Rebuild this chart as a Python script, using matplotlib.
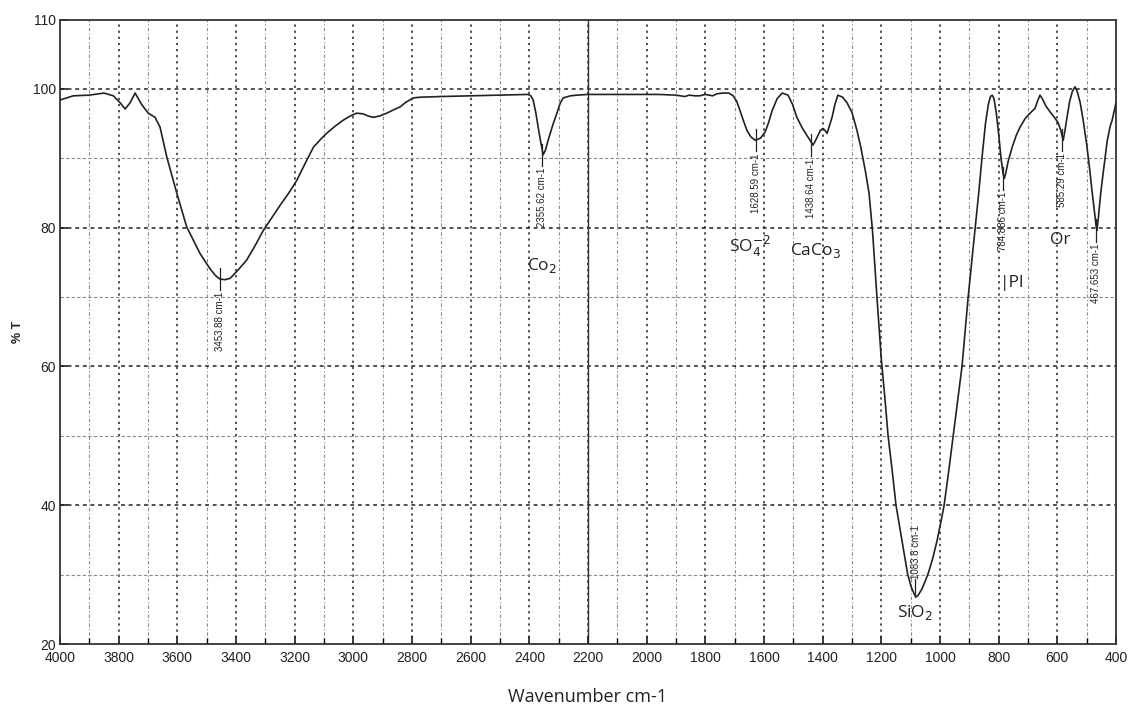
import matplotlib
matplotlib.use("Agg")
import matplotlib.pyplot as plt
from matplotlib.ticker import MultipleLocator, FixedLocator

# ---- spectrum (wavenumber cm-1, %T) ----
wavenumber = [4000, 3955, 3900, 3850, 3818, 3795, 3778, 3761, 3744, 3721, 3699, 3676,
              3659, 3636, 3602, 3568, 3523, 3489, 3470, 3455, 3438, 3420, 3395, 3364,
              3335, 3307, 3280, 3250, 3220, 3193, 3165, 3136, 3110, 3091, 3060, 3034,
              3010, 2989, 2966, 2950, 2932, 2910, 2886, 2862, 2841, 2820, 2795, 2773,
              2700, 2600, 2500, 2404, 2395, 2387, 2378, 2370, 2361, 2353, 2344, 2336,
              2320, 2306, 2295, 2285, 2260, 2238, 2200, 2100, 2030, 1960, 1900, 1885,
              1870, 1855, 1835, 1820, 1800, 1775, 1760, 1740, 1720, 1705, 1693, 1682,
              1670, 1658, 1645, 1630, 1612, 1596, 1584, 1572, 1555, 1538, 1518, 1503,
              1488, 1470, 1454, 1440, 1433, 1425, 1416, 1408, 1399, 1392, 1385, 1376,
              1368, 1358, 1348, 1332, 1317, 1300, 1283, 1270, 1255, 1242, 1230, 1215,
              1200, 1188, 1177, 1163, 1150, 1130, 1110, 1098, 1088, 1082, 1075, 1062,
              1050, 1040, 1025, 1010, 995, 986, 970, 955, 940, 925, 915, 904, 892, 880,
              868, 857, 845, 835, 828, 822, 816, 808, 800, 792, 785, 781, 776, 768, 754,
              740, 727, 710, 693, 676, 668, 659, 650, 640, 625, 610, 597, 588, 580, 574,
              567, 558, 549, 540, 532, 522, 512, 500, 490, 482, 474, 468, 465, 460, 452,
              444, 430, 420, 413, 405, 400]
transmittance = [98.4, 99.0, 99.1, 99.4, 99.0, 98.0, 97.1, 98.0, 99.4, 97.7, 96.5, 95.9,
                 94.5, 90.2, 85.0, 80.1, 76.3, 74.1, 73.1, 72.6, 72.5, 72.7, 73.8, 75.3,
                 77.4, 79.6, 81.3, 83.2, 85.0, 86.8, 89.2, 91.6, 92.8, 93.6, 94.7, 95.5,
                 96.1, 96.5, 96.4, 96.1, 95.9, 96.1, 96.5, 97.0, 97.4, 98.1, 98.7, 98.8,
                 98.9, 99.0, 99.1, 99.2, 99.0, 98.4, 96.6, 94.5, 92.3, 90.5, 91.3, 92.6,
                 94.8, 96.5, 97.9, 98.7, 99.0, 99.1, 99.2, 99.2, 99.2, 99.2, 99.1, 99.0,
                 98.9, 99.1, 99.0, 99.0, 99.2, 99.0, 99.3, 99.4, 99.4, 99.0, 98.2, 96.9,
                 95.4, 94.0, 93.1, 92.6, 92.9, 93.8, 95.2, 96.9, 98.6, 99.4, 99.1, 97.8,
                 95.9, 94.4, 93.3, 92.4, 91.9, 92.5, 93.3, 94.0, 94.3, 94.0, 93.6, 94.8,
                 95.9, 97.8, 99.1, 98.8, 98.0, 96.6, 94.0, 91.6, 88.3, 85.0, 79.5, 70.0,
                 61.0, 55.5, 50.0, 45.0, 40.0, 35.0, 30.0, 28.2, 27.2, 26.8, 27.0, 27.9,
                 29.1, 30.2, 32.3, 34.9, 38.0, 40.0, 45.0, 50.0, 55.0, 60.0, 64.8, 70.0,
                 75.0, 80.0, 85.0, 90.0, 95.0, 97.8, 98.9, 99.1, 98.6, 96.5, 93.5, 90.0,
                 87.8, 87.1, 87.8, 89.5, 91.6, 93.3, 94.5, 95.7, 96.5, 97.2, 98.2, 99.1,
                 98.5, 97.6, 96.7, 95.9, 95.1, 94.0, 92.6, 94.0, 95.9, 98.2, 99.6, 100.3,
                 99.6, 98.0, 95.5, 92.0, 88.5, 85.4, 82.5, 80.3, 79.6, 81.5, 85.0, 87.8,
                 92.5, 94.6, 95.5, 97.0, 98.0]

# ---- peak annotations ----
peak_wn = [3453.88, 2355.62, 1628.59, 1438.64, 1083.8, 784.886, 585.29, 467.653]
peak_t = [72.6, 90.5, 92.6, 91.9, 26.8, 87.1, 92.6, 79.6]
peak_labels = ["3453.88 cm-1", "2355.62 cm-1", "1628.59 cm-1", "1438.64 cm-1",
               "1083.8 cm-1", "784.886 cm-1", "585.29 cm-1", "467.653 cm-1"]

# ---- assignment labels ----
assign_text = [r"Co$_2$", r"SO$_4^{-2}$", r"CaCo$_3$", r"SiO$_2$", "|Pl", "Or"]
assign_wn = [2355, 1647, 1426, 1085, 755, 590]
assign_t = [74.6, 77.3, 76.7, 24.6, 72.0, 78.2]

x_ticks = list(range(4000, 399, -200))
y_ticks = [20, 40, 60, 80, 100, 110]

fig = plt.figure(figsize=(11.3, 7.06), dpi=100)
ax = fig.add_axes([60 / 1130, 1 - 644 / 706, (1116 - 60) / 1130, (644 - 19.5) / 706])

ax.set_xlim(4000, 400)
ax.set_ylim(20, 110)

# grid
for xv in range(3900, 400, -100):
    if xv % 200 == 0:
        ax.axvline(xv, color="#222222", lw=1.1, ls=(0, (1.5, 2.5)), zorder=1)
    else:
        ax.axvline(xv, color="#8a8a8a", lw=0.8, ls=(0, (3, 2, 1, 2)), zorder=1)
for yv in range(30, 110, 10):
    if yv % 20 == 0:
        ax.axhline(yv, color="#222222", lw=1.1, ls=(0, (2.5, 2.5)), zorder=1)
    else:
        ax.axhline(yv, color="#8a8a8a", lw=0.8, ls=(0, (3, 2)), zorder=1)
ax.axvline(2200, color="#333333", lw=1.0, zorder=1)

ax.plot(wavenumber, transmittance, color="#222222", lw=1.2, zorder=3)

# peak markers and labels
for w, t, lab in zip(peak_wn, peak_t, peak_labels):
    if lab.startswith("1083"):
        ax.plot([w, w], [t, t + 2.6], color="#222222", lw=0.9, zorder=4)
        ax.text(w - 3, t + 2.6, lab, rotation=90, ha="center", va="bottom",
                fontsize=7, family="Liberation Sans", color="#222222", zorder=5)
    else:
        ax.plot([w, w], [t - 1.6, t + 1.6], color="#222222", lw=0.9, zorder=4)
        ax.text(w, t - 1.9, lab, rotation=90, ha="center", va="top",
                fontsize=7, family="Liberation Sans", color="#222222", zorder=5)

for txt, w, t in zip(assign_text, assign_wn, assign_t):
    ax.text(w, t, txt, ha="center", va="center", fontsize=12.5,
            family="Open Sans", color="#222222", zorder=5)

# ticks
ax.xaxis.set_major_locator(FixedLocator(x_ticks))
ax.xaxis.set_minor_locator(MultipleLocator(100))
ax.yaxis.set_major_locator(FixedLocator(y_ticks))
ax.set_xticklabels([str(v) for v in x_ticks])
ax.set_yticklabels([str(v) for v in y_ticks])
ax.tick_params(axis="both", which="major", direction="in", length=6, width=1.2,
               labelsize=10, colors="#222222")
ax.tick_params(axis="x", which="major", pad=5)
ax.tick_params(axis="x", which="minor", direction="in", length=4, width=1.0)
ax.tick_params(axis="y", which="major", pad=3)
for lbl in ax.get_xticklabels() + ax.get_yticklabels():
    lbl.set_family("Liberation Sans")

for sp in ax.spines.values():
    sp.set_color("#333333")
    sp.set_linewidth(1.3)

ax.set_xlabel("Wavenumber cm-1", fontsize=13, family="Open Sans", color="#222222")
ax.xaxis.set_label_coords(0.5, -(697 - 644) / 624.5, transform=ax.transAxes)
ax.xaxis.label.set_va("center")
ax.set_ylabel("% T", fontsize=9, family="Liberation Sans", color="#222222",
              fontweight="bold")
ax.yaxis.set_label_coords(-(60 - 18) / 1056, 0.5)
ax.yaxis.label.set_va("center")

fig.savefig("out.png", dpi=100, facecolor="white")
